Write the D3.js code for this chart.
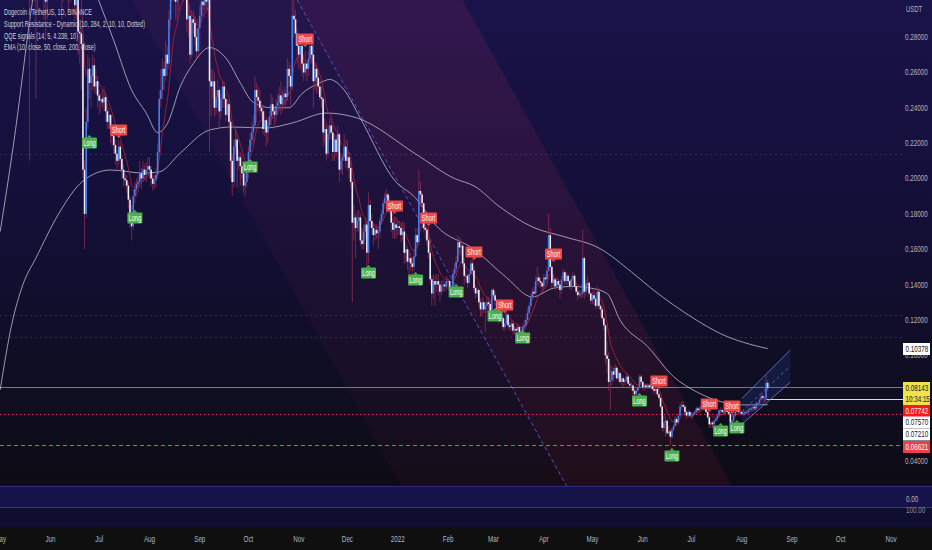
<!DOCTYPE html>
<html><head><meta charset="utf-8">
<script src="https://cdn.jsdelivr.net/npm/d3@7"></script>
<style>html,body{margin:0;padding:0;background:#0f0f10;} svg{display:block;}</style>
</head><body>
<svg id="c" width="932" height="550"></svg>
<script>
// ---------------- DATA ----------------
const startDate = "2021-05-01";
const firstOpen = 0.325;
const closes = [
.382,.379,.398,.535,.575,.663,.686,.702,.560,.486,.508,.428,.491,.503,.470,.505,.462,.449,.372,.386,.343,.340,.302,.367,.345,.350,.330,.302,.300,.318,.323,
.355,.418,.410,.370,.350,.360,.332,.320,.333,.315,.322,.313,.325,.322,.311,.298,.303,.283,.282,.276,.205,.180,.232,.262,.254,.258,.264,.252,.255,.247,
.244,.245,.243,.246,.238,.232,.236,.228,.224,.219,.214,.210,.218,.211,.205,.200,.199,.196,.188,.180,.173,.190,.194,.197,.198,.203,.200,.205,.202,.205,.207,
.205,.200,.197,.199,.202,.215,.245,.250,.262,.258,.270,.265,.290,.305,.320,.315,.300,.302,.310,.322,.310,.318,.312,.290,.292,.270,.290,.288,.280,.272,.285,
.292,.300,.298,.303,.300,.305,.255,.252,.255,.240,.246,.250,.238,.245,.252,.245,.236,.242,.232,.210,.198,.218,.222,.210,.212,.207,.203,.196,.198,.205,
.215,.222,.226,.230,.250,.246,.244,.240,.238,.228,.233,.226,.230,.235,.242,.238,.236,.241,.243,.247,.242,.246,.248,.246,.262,.258,.252,.292,.290,.282,.275,
.270,.275,.265,.260,.265,.262,.268,.275,.270,.255,.262,.257,.252,.246,.245,.226,.228,.214,.225,.230,.226,.215,.222,.215,.225,.205,.210,.212,.218,.210,
.212,.206,.198,.175,.178,.172,.176,.178,.165,.163,.170,.174,.158,.185,.176,.172,.168,.171,.169,.170,.176,.180,.186,.189,.191,.186,.184,.175,.171,.174,.172,
.173,.172,.168,.170,.158,.160,.153,.155,.152,.150,.156,.168,.164,.193,.191,.186,.172,.171,.165,.158,.143,.135,.142,.140,.142,.140,.136,.139,.140,.139,.142,
.142,.137,.138,.146,.149,.153,.164,.161,.162,.152,.145,.145,.141,.146,.152,.148,.138,.135,.137,.130,.126,.130,.126,.128,.130,.129,.124,.137,
.134,.131,.126,.120,.123,.121,.116,.118,.123,.117,.116,.118,.114,.115,.114,.116,.113,.112,.116,.117,.120,.124,.128,.133,.136,.135,.142,.144,.142,.141,.139,
.144,.143,.148,.168,.150,.141,.143,.139,.142,.140,.137,.143,.147,.142,.145,.142,.139,.143,.145,.139,.136,.134,.135,.135,.155,.136,.140,.141,.135,.131,
.134,.132,.128,.136,.128,.126,.121,.117,.100,.098,.085,.086,.091,.089,.093,.087,.090,.085,.087,.085,.086,.088,.084,.083,.083,.080,.078,.080,.082,.088,.085,
.082,.083,.082,.083,.082,.084,.081,.080,.081,.078,.076,.071,.059,.062,.063,.056,.057,.054,.058,.060,.064,.062,.066,.071,.072,.071,.068,.066,.068,.066,
.066,.067,.068,.070,.069,.070,.071,.071,.071,.068,.065,.061,.062,.061,.063,.064,.066,.069,.069,.068,.068,.069,.068,.067,.062,.063,.066,.068,.069,.068,.068,
.067,.067,.068,.068,.069,.070,.070,.071,.070,.073,.073,.075,.077,.076,.076,.0845,.0814
];
const highs = [
.395,.392,.420,.570,.600,.690,.700,.739,.710,.580,.520,.510,.500,.530,.510,.540,.510,.480,.460,.420,.400,.370,.345,.372,.375,.365,.355,.335,.315,.325,.330,
.365,.440,.435,.415,.380,.370,.370,.335,.340,.340,.330,.325,.330,.335,.325,.315,.310,.305,.290,.285,.280,.210,.240,.270,.268,.262,.270,.268,.262,.258,
.250,.248,.250,.252,.248,.242,.240,.236,.230,.226,.222,.216,.222,.220,.213,.208,.203,.202,.198,.190,.185,.194,.198,.200,.202,.210,.206,.210,.208,.209,.212,
.212,.207,.203,.202,.206,.220,.250,.262,.268,.266,.278,.275,.295,.310,.330,.350,.325,.315,.315,.330,.325,.322,.325,.318,.298,.295,.295,.295,.292,.285,.290,
.298,.305,.310,.308,.306,.312,.306,.262,.262,.260,.250,.256,.252,.248,.255,.255,.248,.245,.244,.234,.214,.222,.228,.225,.216,.215,.214,.206,.204,.208,
.218,.226,.232,.236,.258,.254,.252,.250,.244,.242,.238,.235,.234,.238,.248,.246,.240,.245,.248,.252,.255,.250,.252,.250,.268,.266,.264,.322,.310,.295,.285,
.280,.278,.276,.270,.272,.266,.272,.282,.278,.276,.266,.265,.260,.256,.252,.246,.234,.232,.230,.234,.234,.230,.225,.225,.230,.226,.214,.214,.225,.222,
.222,.215,.210,.200,.185,.180,.182,.182,.180,.172,.174,.178,.176,.192,.188,.180,.175,.174,.174,.173,.178,.182,.188,.192,.194,.192,.190,.186,.178,.178,.178,
.176,.176,.174,.176,.175,.164,.162,.160,.158,.156,.160,.172,.172,.205,.198,.192,.186,.175,.173,.173,.160,.145,.146,.145,.146,.146,.142,.142,.143,.142,.145,
.144,.143,.140,.148,.152,.156,.168,.167,.166,.164,.155,.148,.146,.148,.154,.154,.150,.140,.139,.138,.132,.133,.132,.130,.133,.133,.131,.138,
.138,.136,.132,.127,.125,.124,.122,.121,.125,.124,.119,.120,.119,.117,.117,.118,.117,.115,.118,.120,.122,.127,.130,.135,.138,.139,.145,.150,.146,.144,.142,
.146,.146,.150,.180,.172,.151,.146,.144,.144,.143,.141,.145,.149,.148,.147,.146,.143,.145,.147,.146,.141,.139,.137,.137,.171,.156,.143,.145,.142,.136,
.136,.136,.134,.139,.138,.129,.127,.122,.118,.108,.102,.095,.094,.093,.095,.094,.092,.091,.089,.088,.087,.090,.089,.086,.085,.084,.082,.082,.083,.089,.089,
.086,.084,.084,.084,.084,.086,.085,.082,.083,.082,.079,.076,.072,.066,.066,.064,.060,.058,.059,.061,.066,.065,.067,.073,.074,.074,.072,.069,.069,.069,
.068,.068,.069,.071,.071,.071,.072,.072,.073,.072,.068,.066,.063,.063,.064,.065,.067,.070,.071,.070,.069,.070,.070,.069,.067,.064,.067,.069,.071,.070,.069,
.069,.069,.069,.069,.070,.071,.071,.072,.072,.074,.074,.076,.078,.079,.077,.089,.086
];
const lows = [
.355,.365,.372,.395,.505,.560,.620,.650,.470,.455,.430,.410,.380,.470,.450,.420,.430,.440,.210,.300,.310,.300,.245,.295,.320,.330,.320,.290,.280,.290,.305,
.310,.350,.395,.340,.330,.345,.325,.290,.300,.305,.305,.295,.300,.310,.305,.290,.290,.270,.265,.250,.200,.160,.178,.228,.245,.240,.250,.248,.248,.240,
.236,.238,.240,.238,.232,.228,.228,.220,.218,.214,.208,.205,.208,.205,.200,.196,.195,.192,.183,.172,.165,.171,.186,.190,.192,.195,.194,.198,.199,.198,.202,
.200,.196,.193,.194,.195,.200,.213,.240,.245,.250,.255,.258,.262,.285,.300,.305,.290,.290,.295,.305,.305,.300,.308,.283,.280,.265,.268,.282,.275,.268,.270,
.272,.288,.292,.295,.295,.295,.215,.235,.245,.235,.236,.240,.228,.234,.240,.240,.232,.235,.228,.200,.190,.195,.214,.195,.205,.196,.200,.192,.190,.195,
.200,.212,.218,.220,.228,.232,.238,.236,.234,.225,.224,.218,.220,.228,.230,.234,.228,.232,.236,.240,.236,.238,.242,.240,.244,.252,.240,.250,.280,.275,.265,
.262,.262,.258,.255,.258,.255,.258,.265,.265,.240,.250,.248,.248,.244,.240,.218,.220,.210,.212,.222,.222,.210,.210,.212,.214,.198,.203,.202,.210,.206,
.205,.200,.195,.130,.165,.155,.170,.170,.162,.160,.160,.166,.150,.152,.172,.168,.162,.165,.166,.160,.166,.174,.178,.183,.184,.183,.180,.170,.166,.166,.166,
.168,.168,.164,.165,.152,.152,.148,.145,.148,.143,.148,.155,.160,.162,.184,.180,.170,.166,.162,.155,.140,.128,.132,.128,.136,.134,.130,.134,.136,.136,.137,
.138,.134,.134,.136,.144,.147,.152,.157,.156,.150,.140,.142,.138,.140,.145,.145,.136,.132,.133,.128,.122,.122,.124,.113,.124,.126,.122,.122,
.132,.128,.124,.118,.119,.118,.114,.114,.117,.115,.114,.114,.112,.112,.111,.112,.111,.110,.110,.114,.115,.118,.123,.126,.131,.133,.134,.140,.139,.138,.135,
.137,.140,.141,.147,.147,.138,.139,.137,.138,.137,.132,.135,.141,.140,.140,.140,.137,.137,.141,.138,.134,.131,.133,.132,.133,.132,.134,.137,.133,.129,
.129,.128,.126,.127,.126,.122,.119,.114,.095,.090,.080,.069,.083,.085,.087,.086,.085,.084,.083,.082,.083,.085,.083,.081,.080,.077,.075,.076,.079,.081,.083,
.080,.080,.081,.081,.081,.081,.080,.078,.079,.077,.075,.070,.057,.057,.054,.055,.055,.0495,.053,.057,.060,.060,.061,.066,.069,.070,.066,.064,.065,.065,
.064,.065,.066,.067,.067,.068,.069,.070,.069,.067,.064,.059,.059,.059,.060,.062,.063,.065,.067,.066,.066,.067,.067,.066,.061,.061,.062,.065,.067,.067,.067,
.066,.066,.066,.067,.067,.069,.069,.069,.069,.069,.072,.072,.075,.074,.074,.075,.080
];

// EMA 50 / 200 (date, value)
const ema50Dates = ["2021-05-01","2021-05-09","2021-05-21","2021-06-01","2021-06-15","2021-07-01","2021-07-10","2021-07-21","2021-07-30","2021-08-06","2021-08-12","2021-08-20","2021-08-28","2021-09-07","2021-09-18","2021-09-26","2021-10-04","2021-10-15","2021-10-26","2021-11-03","2021-11-14","2021-11-20","2021-11-29","2021-12-09","2021-12-30","2022-01-12","2022-01-25","2022-02-17","2022-03-09","2022-03-25","2022-04-07","2022-04-19","2022-04-30","2022-05-10","2022-05-18","2022-06-04","2022-06-20","2022-07-05","2022-07-15","2022-08-01","2022-08-17"];
const ema50Vals  = [.170,.218,.301,.360,.340,.300,.278,.250,.237,.226,.231,.252,.265,.274,.267,.254,.243,.240,.240,.248,.254,.256,.250,.234,.199,.189,.173,.160,.144,.133,.138,.139,.138,.135,.120,.105,.088,.079,.075,.072,.0721];
const ema200Dates = ["2021-05-01","2021-05-08","2021-05-15","2021-05-23","2021-06-06","2021-06-21","2021-07-08","2021-07-28","2021-08-07","2021-08-20","2021-09-07","2021-09-21","2021-10-12","2021-10-28","2021-11-18","2021-12-07","2022-01-12","2022-02-05","2022-02-17","2022-03-05","2022-03-25","2022-04-14","2022-05-05","2022-05-25","2022-06-06","2022-07-04","2022-07-18","2022-08-17"];
const ema200Vals  = [.0805,.117,.140,.155,.180,.1986,.2048,.2031,.2037,.2144,.2274,.2291,.2286,.2314,.2370,.2342,.2139,.2000,.1958,.1839,.1726,.1670,.1607,.1472,.1381,.1200,.1127,.10378];

// QQE signals: date, type, label price
const sigDates = ["2021-06-25","2021-07-13","2021-07-23","2021-10-02","2021-11-05","2021-12-14","2021-12-30","2022-01-12","2022-01-20","2022-02-06","2022-02-17","2022-03-02","2022-03-08","2022-03-19","2022-04-07","2022-05-30","2022-06-11","2022-06-19","2022-07-12","2022-07-19","2022-07-26","2022-07-29"];
const sigTypes = ["Long","Short","Long","Long","Short","Long","Short","Long","Short","Long","Short","Long","Short","Long","Short","Long","Short","Long","Short","Long","Short","Long"];
const sigPrices = [.2201,.2274,.1777,.2065,.2789,.1466,.1845,.1426,.1777,.1359,.1585,.1223,.1285,.1098,.1573,.0742,.0855,.0431,.0725,.0573,.0714,.0590];

// Support / resistance dynamic: regression channel and levels
const regDates = ["2021-10-31","2022-04-15"];
const regMid = [0.301, 0.0262];
const regDev = 0.1686;
const srDotted = [0.2139, 0.1229, 0.1104];
const levelRed = 0.0669, levelCyan = 0.0494, levelGray = 0.0820, levelWhite = 0.0754;

// small rising channel
const rcDates = ["2022-08-01","2022-08-31"];
const rcUpper = [0.0755, 0.1031];
const rcLower = [0.0610, 0.0849];

// axis labels
const priceTicks = [0.28,0.26,0.24,0.22,0.20,0.18,0.16,0.14,0.12,0.10,0.04];
const priceTags = [
  {v:"0.10378", y:0.10378, bg:"#ffffff", fg:"#131722"},
  {v:"0.08143", y:0.08143, bg:"#f2e24a", fg:"#131722", sub:"10:34:15"},
  {v:"0.07742", y:0.07742, bg:"#f7191c", fg:"#ffffff"},
  {v:"0.07570", y:0.07570, bg:"#ffffff", fg:"#131722"},
  {v:"0.07210", y:0.07210, bg:"#ffffff", fg:"#131722"},
  {v:"0.06621", y:0.06621, bg:"#e8404f", fg:"#ffffff"}
];
const legendLines = ["Dogecoin / TetherUS, 1D, BINANCE","Support Resistance - Dynamic (10, 284, 2, 10, 10, Dotted)","QQE signals (14, 5, 4.238, 10)","EMA (10, close, 50, close, 200, close)"];

// ---------------- DRAW ----------------
const parse = d3.utcParse("%Y-%m-%d");
const W = 932, H = 550, paneB = 486, plotR = 903;
const FONT = "'Liberation Sans', Arial, 'DejaVu Sans', sans-serif";
const SX = 0.66;
const x = d3.scaleUtc().domain([parse("2021-06-01"), parse("2022-11-01")]).range([50.5, 891]);
const y = d3.scaleLinear().domain([0.04, 0.28]).range([461.5, 37]);

const t0 = parse(startDate);
const dates = closes.map((_, i) => d3.utcDay.offset(t0, i));
const opens = closes.map((c, i) => i === 0 ? firstOpen : closes[i - 1]);

const svg = d3.select("#c");
const defs = svg.append("defs");
function grad(id, stops, y1, y2) {
  const g = defs.append("linearGradient").attr("id", id).attr("gradientUnits", "userSpaceOnUse")
    .attr("x1", 0).attr("x2", 0).attr("y1", y1).attr("y2", y2);
  g.selectAll("stop").data(stops).join("stop").attr("offset", d => d[0]).attr("stop-color", d => d[1]).attr("stop-opacity", d => d[2] == null ? 1 : d[2]);
}
grad("bg", [[0, "#1a1349"], [0.45, "#130f37"], [1, "#0d0c14"]], 0, paneB);
grad("chU", [[0, "#b8306a", 0.15], [1, "#8a1c3a", 0.15]], 0, paneB);
grad("chL", [[0, "#a03070", 0.08], [1, "#701a40", 0.09]], 0, paneB);
defs.append("clipPath").attr("id", "clip").append("rect").attr("x", 0).attr("y", 0).attr("width", plotR).attr("height", paneB);

// backgrounds
svg.append("rect").attr("width", W).attr("height", H).attr("fill", "#0f0f10");
svg.append("rect").attr("width", W).attr("height", paneB).attr("fill", "url(#bg)");
svg.append("rect").attr("y", paneB).attr("width", W).attr("height", 21).attr("fill", "#16134a");
svg.append("rect").attr("y", paneB + 21).attr("width", W).attr("height", 20).attr("fill", "#0f0d30");
svg.append("line").attr("x1", 0).attr("x2", W).attr("y1", paneB + 0.5).attr("y2", paneB + 0.5).attr("stroke", "#2f2c80");
svg.append("line").attr("x1", 0).attr("x2", W).attr("y1", paneB + 21.5).attr("y2", paneB + 21.5).attr("stroke", "#37348c");

const plot = svg.append("g").attr("clip-path", "url(#clip)");

// regression channel
const r0 = parse(regDates[0]).getTime(), r1 = parse(regDates[1]).getTime();
const midAt = t => regMid[0] + (regMid[1] - regMid[0]) * (t - r0) / (r1 - r0);
const tA = parse("2021-05-01").getTime(), tB = parse("2022-11-15").getTime();
const pt = (t, off) => [x(new Date(t)), y(midAt(t) + off)];
plot.append("path").attr("d", d3.line()([pt(tA, 0), pt(tB, 0), pt(tB, regDev), pt(tA, regDev)]) + "Z").attr("fill", "url(#chU)");
plot.append("path").attr("d", d3.line()([pt(tA, -regDev), pt(tB, -regDev), pt(tB, 0), pt(tA, 0)]) + "Z").attr("fill", "url(#chL)");
plot.append("path").attr("d", d3.line()([pt(r0, 0), pt(tB, 0)])).attr("fill", "none")
  .attr("stroke", "#5552c0").attr("stroke-width", 1).attr("stroke-dasharray", "4,3");

// horizontal levels
srDotted.forEach(v => plot.append("line").attr("x1", 0).attr("x2", plotR).attr("y1", Math.round(y(v)) + 0.5).attr("y2", Math.round(y(v)) + 0.5)
  .attr("stroke", "#9a98b8").attr("stroke-opacity", 0.22).attr("stroke-dasharray", "2,3"));
function hline(v, col, dash, x1, op) {
  plot.append("line").attr("x1", x1 || 0).attr("x2", plotR).attr("y1", Math.round(y(v)) + 0.5).attr("y2", Math.round(y(v)) + 0.5)
    .attr("stroke", col).attr("stroke-opacity", op || 1).attr("stroke-dasharray", dash || null);
}
hline(levelGray, "#9a9aa6", null, 0, 0.75);
hline(levelRed, "#e8305a", "1.5,2.5");
hline(levelCyan, "#3aa6c8", "4,3", 0, 0.9);
hline(levelWhite, "#e6e6ee", null, x(dates[dates.length - 1]) - 2, 0.95);

// EMA lines
const line = d3.line().x(d => x(d[0])).y(d => y(d[1])).curve(d3.curveMonotoneX);
plot.append("path").attr("d", line(ema200Dates.map((d, i) => [parse(d), ema200Vals[i]]))).attr("fill", "none").attr("stroke", "#c9c7d6").attr("stroke-opacity", 0.75).attr("stroke-width", 1);
plot.append("path").attr("d", line(ema50Dates.map((d, i) => [parse(d), ema50Vals[i]]))).attr("fill", "none").attr("stroke", "#c9c7d6").attr("stroke-opacity", 0.75).attr("stroke-width", 1);
const k10 = 2 / 11; let e10 = closes[0];
const ema10 = closes.map((c, i) => (e10 = i === 0 ? c : c * k10 + e10 * (1 - k10)));
plot.append("path").attr("d", d3.line().x((d, i) => x(dates[i])).y(d => y(d))(ema10)).attr("fill", "none").attr("stroke", "#b3213f").attr("stroke-opacity", 0.8).attr("stroke-width", 1);

// candles
const cg = plot.append("g");
cg.selectAll("line.w").data(closes).join("line")
  .attr("x1", (d, i) => x(dates[i])).attr("x2", (d, i) => x(dates[i]))
  .attr("y1", (d, i) => y(Math.max(highs[i], opens[i], d))).attr("y2", (d, i) => y(Math.min(lows[i], opens[i], d)))
  .attr("stroke", "#8a2c52").attr("stroke-width", 0.9).attr("stroke-opacity", 0.9);
cg.selectAll("rect").data(closes).join("rect")
  .attr("x", (d, i) => x(dates[i]) - 0.8).attr("width", 1.6)
  .attr("y", (d, i) => y(Math.max(opens[i], d)))
  .attr("height", (d, i) => Math.max(1, y(Math.min(opens[i], d)) - y(Math.max(opens[i], d))))
  .attr("fill", (d, i) => d >= opens[i] ? "#3f7ff0" : "#eeeef4");

// rising channel
const rc = [parse(rcDates[0]), parse(rcDates[1])];
plot.append("path").attr("d", d3.line()([[x(rc[0]), y(rcUpper[0])], [x(rc[1]), y(rcUpper[1])], [x(rc[1]), y(rcLower[1])], [x(rc[0]), y(rcLower[0])]]) + "Z")
  .attr("fill", "#2f5fd8").attr("fill-opacity", 0.16);
[rcUpper, rcLower].forEach(a => plot.append("line").attr("x1", x(rc[0])).attr("x2", x(rc[1])).attr("y1", y(a[0])).attr("y2", y(a[1])).attr("stroke", "#7f95d0").attr("stroke-opacity", 0.7));
plot.append("line").attr("x1", x(rc[0])).attr("x2", x(rc[1])).attr("y1", y((rcUpper[0] + rcLower[0]) / 2)).attr("y2", y((rcUpper[1] + rcLower[1]) / 2))
  .attr("stroke", "#7f95d0").attr("stroke-opacity", 0.6).attr("stroke-dasharray", "3,3");

// text helper
function txt(g, s, tx, ty, o) {
  o = o || {};
  return g.append("text").attr("transform", `translate(${tx},${ty}) scale(${o.sx || SX},1)`)
    .attr("text-anchor", o.anchor || "start").attr("dominant-baseline", "central")
    .attr("font-family", FONT).attr("font-size", o.size || 9.5).attr("fill", o.fill || "#b2b5be").text(s);
}

// signal labels
const sg = plot.append("g");
sigDates.forEach((d, i) => {
  const cx = x(parse(d)), cy = y(sigPrices[i]);
  const isL = sigTypes[i] === "Long";
  const col = isL ? "#4caf50" : "#f04848";
  const bw = isL ? 15 : 17, bh = 11;
  sg.append("rect").attr("x", cx - bw / 2).attr("y", cy - bh / 2).attr("width", bw).attr("height", bh).attr("rx", 1).attr("fill", col);
  const ty = isL ? cy - bh / 2 : cy + bh / 2;
  const dir = isL ? -1 : 1;
  sg.append("path").attr("d", `M${cx - 2.5},${ty}L${cx},${ty + dir * 2.5}L${cx + 2.5},${ty}Z`).attr("fill", col);
  txt(sg, sigTypes[i], cx, cy + 0.5, {anchor: "middle", size: 8.5, fill: "#ffffff"});
});

// legend
legendLines.forEach((s, i) => txt(svg, s, 4, 12 + i * 11.8, {size: 9, fill: "#cfd1da", sx: 0.61}));

// price axis
const ax = svg.append("g");
txt(ax, "USDT", 906, 9, {size: 9});
priceTicks.forEach(v => txt(ax, d3.format(".5f")(v), 905, y(v), {size: 9.5}));
txt(ax, "0.00", 906, 499, {size: 9.5});
txt(ax, "100.00", 906, 510, {size: 9.5, fill: "#8a8da0"});

// price tags (stacked like the platform)
const tagTops = [343, 382, 405, 416.5, 428.5, 441];
priceTags.forEach((t, i) => {
  const h = t.sub ? 23 : 12;
  const top = tagTops[i];
  ax.append("rect").attr("x", 903).attr("y", top).attr("width", 27).attr("height", h).attr("fill", t.bg);
  txt(ax, t.v, 905.5, top + 6, {size: 9.5, fill: t.fg});
  if (t.sub) txt(ax, t.sub, 905.5, top + 17, {size: 9.5, fill: t.fg});
});

// time axis
const months = d3.utcMonth.range(parse("2021-05-01"), parse("2022-11-02"));
months.forEach(m => txt(svg, m.getUTCMonth() === 0 ? d3.utcFormat("%Y")(m) : d3.utcFormat("%b")(m), x(m), 539.5, {anchor: "middle", size: 9.5}));
</script>
</body></html>
